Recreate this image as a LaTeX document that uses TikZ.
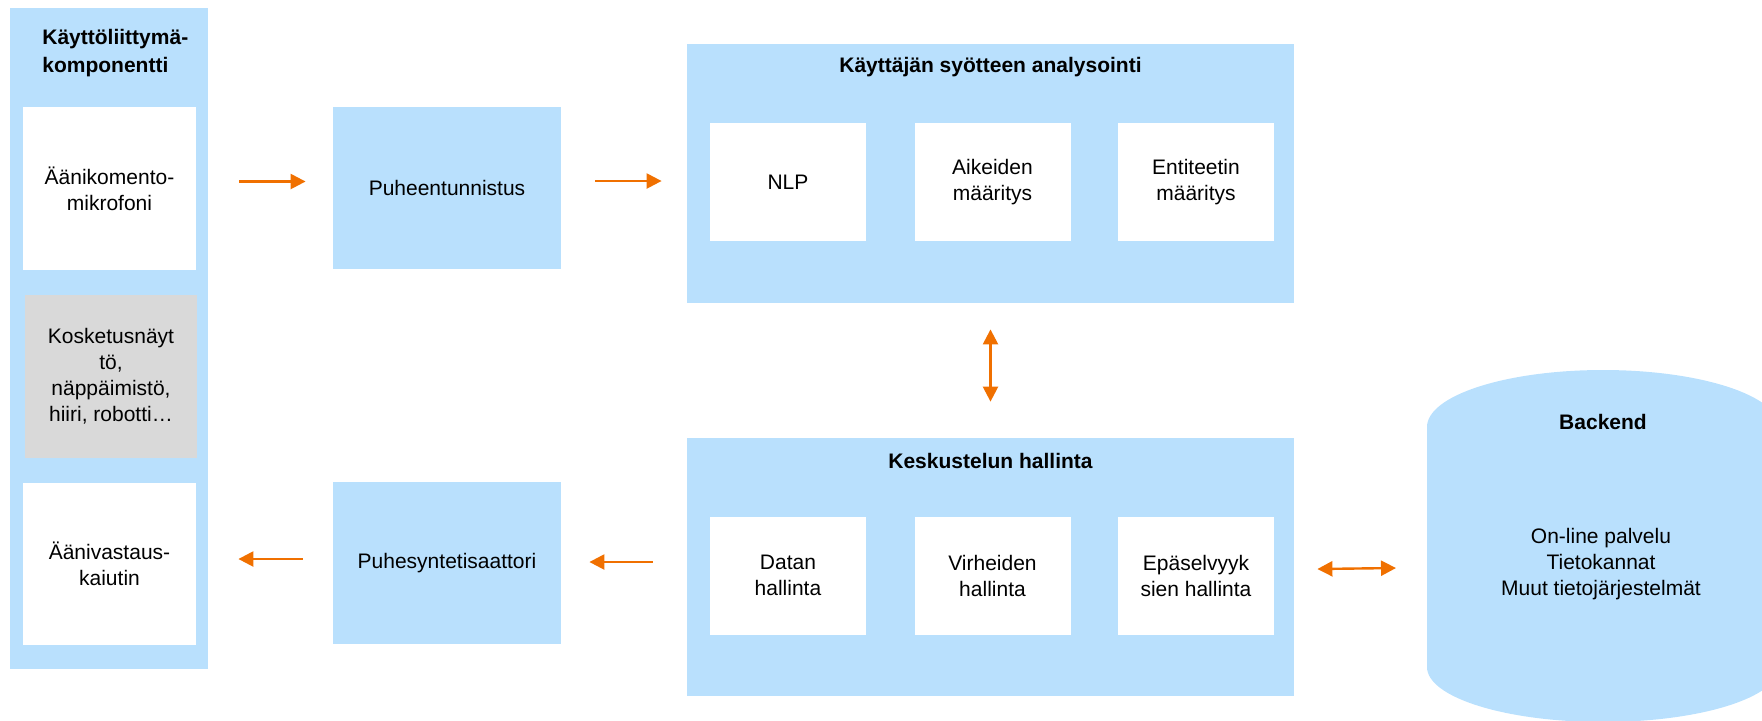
\documentclass[tikz,border=0pt]{standalone}
\usepackage{fontspec}
\setmainfont{Liberation Sans}
\usetikzlibrary{arrows.meta,positioning,calc}
\definecolor{uiblue}{HTML}{B9E0FD}
\definecolor{uigrey}{HTML}{D9D9D9}
\definecolor{flow}{HTML}{F07000}

\begin{document}
\begin{tikzpicture}[x=.5pt,y=-.5pt,font=\fontsize{10.5}{13}\selectfont,
    box/.style={fill=uiblue,inner sep=0pt,align=center},
    card/.style={fill=white,inner sep=0pt,align=center},
    heading/.style={font=\fontsize{10.5}{14}\selectfont\bfseries,align=center},
    flowarr/.style={draw=flow,line width=1.2pt,-{Triangle[length=7.5pt,width=7.5pt]}},
    bothway/.style={draw=flow,line width=1.2pt,{Triangle[length=7.5pt,width=7.5pt]}-{Triangle[length=7.5pt,width=7.5pt]}}]
    \useasboundingbox (0,0) rectangle (1762,720);
    \clip (0,0) rectangle (1762,720);
    % kayttoliittyma
    \node[box,minimum width=99pt,minimum height=330.5pt] (ui) at (109,338.5) {};
    \node[heading,anchor=west,align=left,inner sep=0pt] (uititle) at (42,53) {Käyttöliittymä-\\komponentti};
    \node[card,minimum width=86.5pt,minimum height=81.5pt] (mic) at (109.5,188.5) {Äänikomento-\\mikrofoni};
    \node[card,fill=uigrey,minimum width=86pt,minimum height=81.5pt] (touch) at (111,376.5) {Kosketusnäyt\\tö,\\näppäimistö,\\hiiri, robotti…};
    \node[card,minimum width=86.5pt,minimum height=81pt] (spk) at (109.5,564) {Äänivastaus-\\kaiutin};
    % puhe
    \node[box,minimum width=114pt,minimum height=81pt] (asr) at (447,188) {Puheentunnistus};
    \node[box,minimum width=114pt,minimum height=81pt] (tts) at (447,563) {Puhesyntetisaattori};
    % analyysi ja hallinta
    \node[box,minimum width=303.5pt,minimum height=129.5pt] (ana) at (990.5,173.5) {};
    \node[heading] (anatitle) at (990.5,67) {Käyttäjän syötteen analysointi};
    \node[box,minimum width=303.5pt,minimum height=129pt] (dlg) at (990.5,567) {};
    \node[heading] (dlgtitle) at (990.5,461) {Keskustelun hallinta};
    \foreach \n/\x/\t in {nlp/788/NLP,intent/992.5/Aikeiden\\määritys,entity/1196/Entiteetin\\määritys}
      \node[card,minimum width=78pt,minimum height=59pt] (\n) at (\x,182) {\t};
    \foreach \n/\x/\t in {data/788/Datan\\hallinta,err/992.5/Virheiden\\hallinta,amb/1196/Epäselvyyk\\sien hallinta}
      \node[card,minimum width=78pt,minimum height=59pt] (\n) at (\x,575.5) {\t};
    % backend
    \fill[uiblue] (1427,427) arc[start angle=180,end angle=0,x radius=88pt,y radius=28.5pt]
      -- (1779,667) arc[start angle=0,end angle=-180,x radius=88pt,y radius=27.5pt] -- cycle;
    \coordinate (backend) at (1427,568);
    \node[heading] (betitle) at (1603,422) {Backend};
    \node[align=center] (bebody) at (1601,564) {On-line palvelu\\Tietokannat\\Muut tietojärjestelmät};
    % nuolet
    \draw[flowarr] ([xshift=21.5pt,yshift=3.5pt]mic.east) -- ([xshift=-13.5pt,yshift=3.25pt]asr.west);
    \draw[flowarr] ([xshift=17pt,yshift=3.5pt]asr.east) -- ([xshift=-12.5pt,yshift=-3.75pt]ana.west);
    \draw[bothway] ([yshift=-13pt]ana.south) -- ([yshift=18pt]dlg.north);
    \draw[flowarr] ([xshift=-17pt,yshift=2.5pt]dlg.west) -- ([xshift=14pt,yshift=0.5pt]tts.east);
    \draw[flowarr] ([xshift=-15pt,yshift=2pt]tts.west) -- ([xshift=21pt,yshift=2.5pt]spk.east);
    \draw[bothway] ([xshift=11.5pt,yshift=-1pt]dlg.east) -- ([xshift=-15.5pt]backend);
\end{tikzpicture}
\end{document}
